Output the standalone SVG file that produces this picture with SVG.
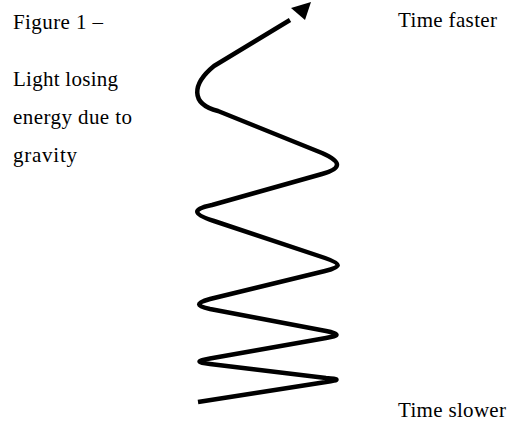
<svg xmlns="http://www.w3.org/2000/svg" width="511" height="423" viewBox="0 0 511 423">
  <style>
    .lbl { font-family: "Liberation Serif", "Times New Roman", serif; font-size: 21px; fill: #000; }
    .wave { fill: none; stroke: #000; stroke-width: 4.5; stroke-linejoin: round; stroke-linecap: butt; }
  </style>
  <rect width="511" height="423" fill="#fff"/>
  <g id="labels">
    <text class="lbl" x="13" y="29" textLength="90" lengthAdjust="spacing">Figure 1 –</text>
    <text class="lbl" x="13" y="86" textLength="105" lengthAdjust="spacing">Light losing</text>
    <text class="lbl" x="13" y="124" textLength="119" lengthAdjust="spacing">energy due to</text>
    <text class="lbl" x="13" y="162" textLength="64" lengthAdjust="spacing">gravity</text>
    <text class="lbl" x="398" y="27" textLength="99" lengthAdjust="spacing">Time faster</text>
    <text class="lbl" x="398" y="417" textLength="108" lengthAdjust="spacing">Time slower</text>
  </g>
  <g id="connectors">
    <path class="wave" d="M198,402 L326,382 C340,380 340,379 326,378 L210,364 C196,362.3 196,361 210,358.5 L326,338 C340,335.5 340,334 326,331 L210,309 C196,306 195,303 210,299 L325,271 C342,267 342,264 325,258 L214,221 C192,214 192,209 212,205 L322,174 C342,168 342,162 322,153 L218,111 C190,104 192,84 214,66 L290,20"/>
    <polygon points="311,2 291,8 305,20" fill="#000"/>
  </g>
</svg>
